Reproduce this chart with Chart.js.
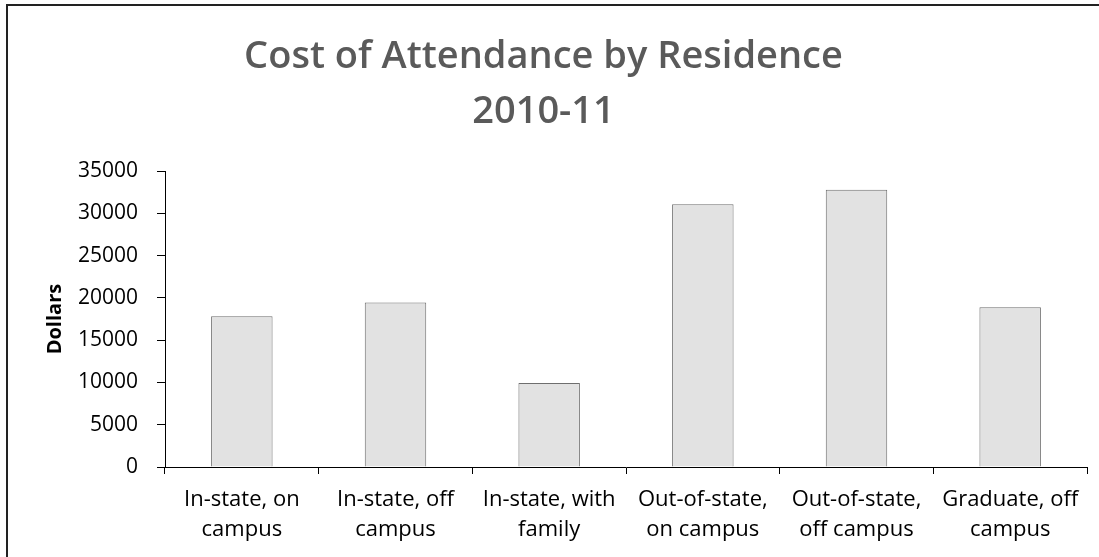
<!DOCTYPE html>
<html>
<head>
<meta charset="utf-8">
<title>Cost of Attendance by Residence 2010-11</title>
<script src="https://cdn.jsdelivr.net/npm/chart.js@4/dist/chart.umd.min.js"></script>
<style>
    html, body { margin: 0; padding: 0; background: #fff; }
    #wrap { width: 1099px; height: 557px; position: relative; }
</style>
</head>
<body>
<div id="wrap"><canvas id="costChart" width="1099" height="557"></canvas></div>
<script>
// Chart data
const categories = [
    ['In-state, on', 'campus'],
    ['In-state, off', 'campus'],
    ['In-state, with', 'family'],
    ['Out-of-state,', 'on campus'],
    ['Out-of-state,', 'off campus'],
    ['Graduate, off', 'campus']
];
const costs = [17850, 19450, 9950, 31100, 32800, 18900];
const yTicks = [0, 5000, 10000, 15000, 20000, 25000, 30000, 35000];

const FONT = '"Open Sans", "Liberation Sans", sans-serif';

// Frame around the chart (only left and top edges show in the scan)
const framePlugin = {
    id: 'frame',
    beforeDraw(chart) {
        const c = chart.ctx;
        c.save();
        c.fillStyle = '#fff';
        c.fillRect(0, 0, chart.width, chart.height);
        c.strokeStyle = '#222';
        c.lineWidth = 2;
        c.beginPath();
        c.moveTo(7, chart.height);
        c.lineTo(7, 5);
        c.lineTo(chart.width, 5);
        c.stroke();
        c.restore();
    }
};

new Chart(document.getElementById('costChart'), {
    type: 'bar',
    data: {
        labels: categories,
        datasets: [{
            label: 'Dollars',
            data: costs,
            backgroundColor: '#e2e2e2',
            borderColor: '#6e6e6e',
            borderWidth: 1,
            borderSkipped: 'bottom',
            categoryPercentage: 1,
            barPercentage: 0.4
        }]
    },
    options: {
        responsive: false,
        animation: false,
        layout: {
            padding: { left: 0, right: 12, top: 0, bottom: 0 }
        },
        plugins: {
            legend: { display: false },
            tooltip: { enabled: false },
            title: {
                display: true,
                text: ['Cost of Attendance by Residence', '2010-11'],
                color: '#5a5a5a',
                font: { family: FONT, size: 38, weight: '600', lineHeight: 1.45 },
                padding: { top: 30, bottom: 31 }
            }
        },
        scales: {
            x: {
                afterFit: function(scale) { scale.height = 90; },
                grid: {
                    drawOnChartArea: false,
                    color: '#000',
                    tickLength: 7,
                    offset: true
                },
                border: { color: '#000', width: 1 },
                ticks: {
                    color: '#000',
                    font: { family: FONT, size: 22, lineHeight: 1.36 },
                    maxRotation: 0,
                    autoSkip: false,
                    padding: 11
                }
            },
            y: {
                min: 0,
                max: 35000,
                afterFit: function(scale) { scale.width = 165; },
                afterBuildTicks: function(scale) {
                    scale.ticks = yTicks.map(v => ({ value: v }));
                },
                grid: {
                    drawOnChartArea: false,
                    color: '#000',
                    tickLength: 8
                },
                border: { color: '#000', width: 1 },
                ticks: {
                    color: '#000',
                    font: { family: FONT, size: 21 },
                    padding: 19,
                    callback: function(value) { return String(value); }
                },
                title: {
                    display: true,
                    text: 'Dollars',
                    color: '#000',
                    font: { family: FONT, size: 20, weight: 'bold' },
                    padding: { top: 43, bottom: 0 }
                }
            }
        }
    },
    plugins: [framePlugin]
});
</script>
</body>
</html>
